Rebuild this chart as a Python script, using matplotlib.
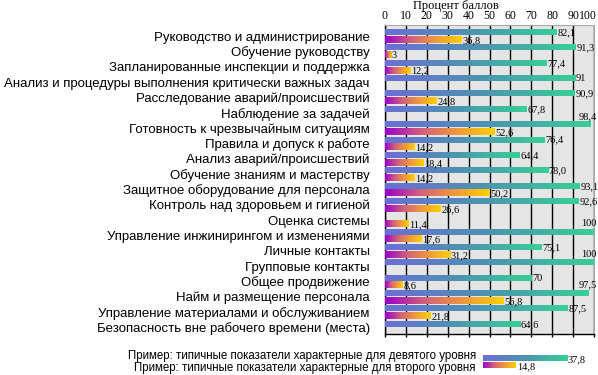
import matplotlib
matplotlib.use('Agg')
import matplotlib.pyplot as plt
import numpy as np
from matplotlib.colors import LinearSegmentedColormap
from matplotlib.transforms import ScaledTranslation

# Data
categories = [
    'Руководство и администрирование',
    'Обучение руководству',
    'Запланированные инспекции и поддержка',
    'Анализ и процедуры выполнения критически важных задач',
    'Расследование аварий/происшествий',
    'Наблюдение за задачей',
    'Готовность к чрезвычайным ситуациям',
    'Правила и допуск к работе',
    'Анализ аварий/происшествий',
    'Обучение знаниям и мастерству',
    'Защитное оборудование для персонала',
    'Контроль над здоровьем и гигиеной',
    'Оценка системы',
    'Управление инжинирингом и изменениями',
    'Личные контакты',
    'Групповые контакты',
    'Общее продвижение',
    'Найм и размещение персонала',
    'Управление материалами и обслуживанием',
    'Безопасность вне рабочего времени (места)',
]
level9 = [82.1, 91.3, 77.4, 91, 90.9, 67.8, 98.4, 76.4, 64.4, 78.0,
          93.1, 92.6, None, 100, 75.1, 100, 70, 97.5, 87.5, 64.6]
level2 = [36.8, 3, 12.2, None, 24.8, None, 52.6, 14.2, 18.4, 14.2,
          50.2, 26.6, 11.4, 17.6, 31.2, None, 8.6, 56.8, 21.8, None]
tick_values = list(range(0, 101, 10))
legend_labels = ['Пример: типичные показатели характерные для девятого уровня',
                 'Пример: типичные показатели характерные для второго уровня']
legend_values = [37.8, 14.8]

cmap9 = LinearSegmentedColormap.from_list('lvl9', ['#6b6ed6', '#4d93b0', '#38cf98'])
cmap2 = LinearSegmentedColormap.from_list('lvl2', ['#9a00cc', '#d2607a', '#f09a3a', '#ffd000'])
grad = np.linspace(0, 1, 256).reshape(1, -1)

SANS = 'Liberation Sans'
SERIF = 'Liberation Serif'


def fmt(v):
    return str(v).replace('.', ',')


def gradient_bars(ax, ys, widths, height, cmap):
    bars = ax.barh(ys, widths, height=height, color='none', edgecolor='none')
    for b in bars:
        x0, y0 = b.get_x(), b.get_y()
        ax.imshow(grad, extent=(x0, x0 + b.get_width(), y0 + b.get_height(), y0),
                  cmap=cmap, aspect='auto', interpolation='bilinear', zorder=3)
    return bars


W, H = 598, 375
fig = plt.figure(figsize=(W / 100, H / 100), dpi=100)
ax = fig.add_axes([385 / W, (H - 333.5) / H, 209 / W, 309 / H])
ax.set_facecolor('#e5e5e5')

# each category takes two slots: level 9 on top, level 2 below
y9 = [2 * i for i, v in enumerate(level9) if v is not None]
v9 = [v for v in level9 if v is not None]
y2 = [2 * i + 1 for i, v in enumerate(level2) if v is not None]
v2 = [v for v in level2 if v is not None]

gradient_bars(ax, y9, v9, 0.78, cmap9)
gradient_bars(ax, y2, v2, 0.8, cmap2)

for y, v in list(zip(y9, v9)) + list(zip(y2, v2)):
    if v >= 97:
        ax.text(101.3, y - 1.0, fmt(v), ha='right', va='center', fontsize=7.5,
                family=SERIF, clip_on=False, zorder=5)
    else:
        ax.text(v + 0.3, y + 0.1, fmt(v), ha='left', va='center', fontsize=7.5,
                family=SERIF, clip_on=False, zorder=5)

ax.set_xlim(0, 100)
ax.set_ylim(39.3, -1)
ax.set_yticks([2 * i + 0.5 for i in range(len(categories))])
ax.set_yticklabels(categories, family=SANS, fontsize=9.5)
ax.tick_params(axis='y', length=0, pad=11)

ax.set_xticks(tick_values)
ax.tick_params(axis='x', bottom=True, labelbottom=False, direction='out',
               length=2.5, width=1, color='black')
ax.grid(axis='x', color='black', linewidth=1)
ax.grid(axis='y', visible=False)
ax.set_axisbelow(True)

top = ax.secondary_xaxis('top')
top.set_xticks(tick_values)
top.set_xticklabels([str(t) for t in tick_values], family=SERIF, fontsize=8.5)
top.tick_params(length=0, pad=1.5)
top.spines['top'].set_visible(False)
last = top.get_xticklabels()[-1]
last.set_ha('right')
last.set_transform(last.get_transform() + ScaledTranslation(3 / 100, 0, fig.dpi_scale_trans))

for side in ['top', 'right']:
    ax.spines[side].set_color('#a8a8a8')
for side in ['left', 'bottom']:
    ax.spines[side].set_color('black')
    ax.spines[side].set_linewidth(1)

fig.text(456 / W, 1 - 5.5 / H, 'Процент баллов', ha='center', va='center',
         family=SERIF, fontsize=9)

# legend block
for k, label in enumerate(legend_labels):
    fig.text(476 / W, 1 - (356 + 12 * k) / H, label, ha='right', va='center',
             family=SANS, fontsize=8.3)

lax = fig.add_axes([483 / W, (H - 369) / H, 89 / W, 14 / H])
lax.axis('off')
gradient_bars(lax, [0], [legend_values[0]], 0.8, cmap9)
gradient_bars(lax, [1], [legend_values[1]], 0.8, cmap2)
lax.set_xlim(0, 40)
lax.set_ylim(1.6, -0.6)
lax.text(legend_values[0] + 0.4, 0.1, fmt(legend_values[0]), va='center',
         fontsize=7.5, family=SERIF, clip_on=False)
lax.text(legend_values[1] + 0.4, 1.2, fmt(legend_values[1]), va='center',
         fontsize=7.5, family=SERIF, clip_on=False)

ax.set_xlim(0, 100)
ax.set_ylim(39.3, -1)

fig.savefig('out.png', dpi=100)
